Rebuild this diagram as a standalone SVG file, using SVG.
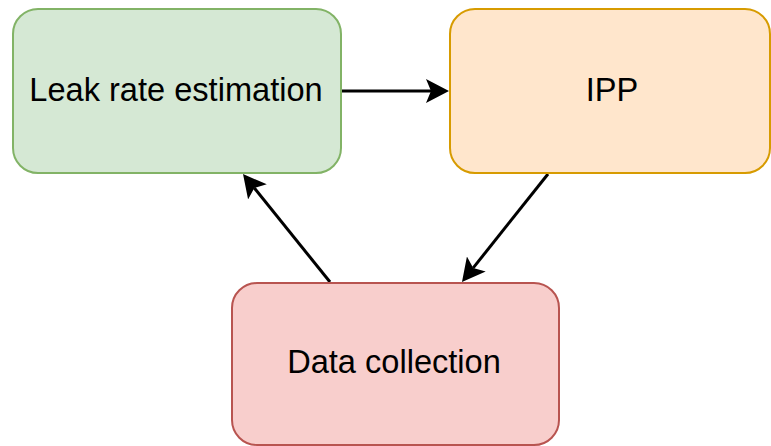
<svg xmlns="http://www.w3.org/2000/svg" width="771" height="446" viewBox="0 0 771 446">
  <style>
    .box { stroke-width: 2; }
    .green { fill: #d5e8d4; stroke: #82b366; }
    .orange { fill: #ffe6cc; stroke: #d79b00; }
    .red { fill: #f8cecc; stroke: #b85450; }
    .label { font-family: "Liberation Sans", Arial, sans-serif; font-size: 32.6px; fill: #000; text-anchor: middle; }
    .edge { stroke: #000; stroke-width: 3; fill: none; marker-end: url(#arrow); }
  </style>
  <defs>
    <marker id="arrow" viewBox="0 0 23 24" refX="5" refY="12" markerWidth="23" markerHeight="24" markerUnits="userSpaceOnUse" orient="auto">
      <path d="M0,0 L23,12 L0,24 L5,12 Z" fill="#000"/>
    </marker>
  </defs>

  <g id="connectors">
    <line class="edge" x1="342" y1="91" x2="431" y2="91"/>
    <line class="edge" x1="548" y1="174" x2="473.2" y2="267.9"/>
    <line class="edge" x1="330" y1="282" x2="254.3" y2="188"/>
  </g>

  <g id="leak-rate-estimation">
    <rect class="box green" x="13" y="9" width="328" height="164" rx="25" ry="25"/>
    <text class="label" x="176" y="101">Leak rate estimation</text>
  </g>

  <g id="ipp">
    <rect class="box orange" x="450" y="9" width="320" height="164" rx="25" ry="25"/>
    <text class="label" x="612" y="101">IPP</text>
  </g>

  <g id="data-collection">
    <rect class="box red" x="232" y="283" width="327" height="162" rx="25" ry="25"/>
    <text class="label" x="394" y="373">Data collection</text>
  </g>
</svg>
